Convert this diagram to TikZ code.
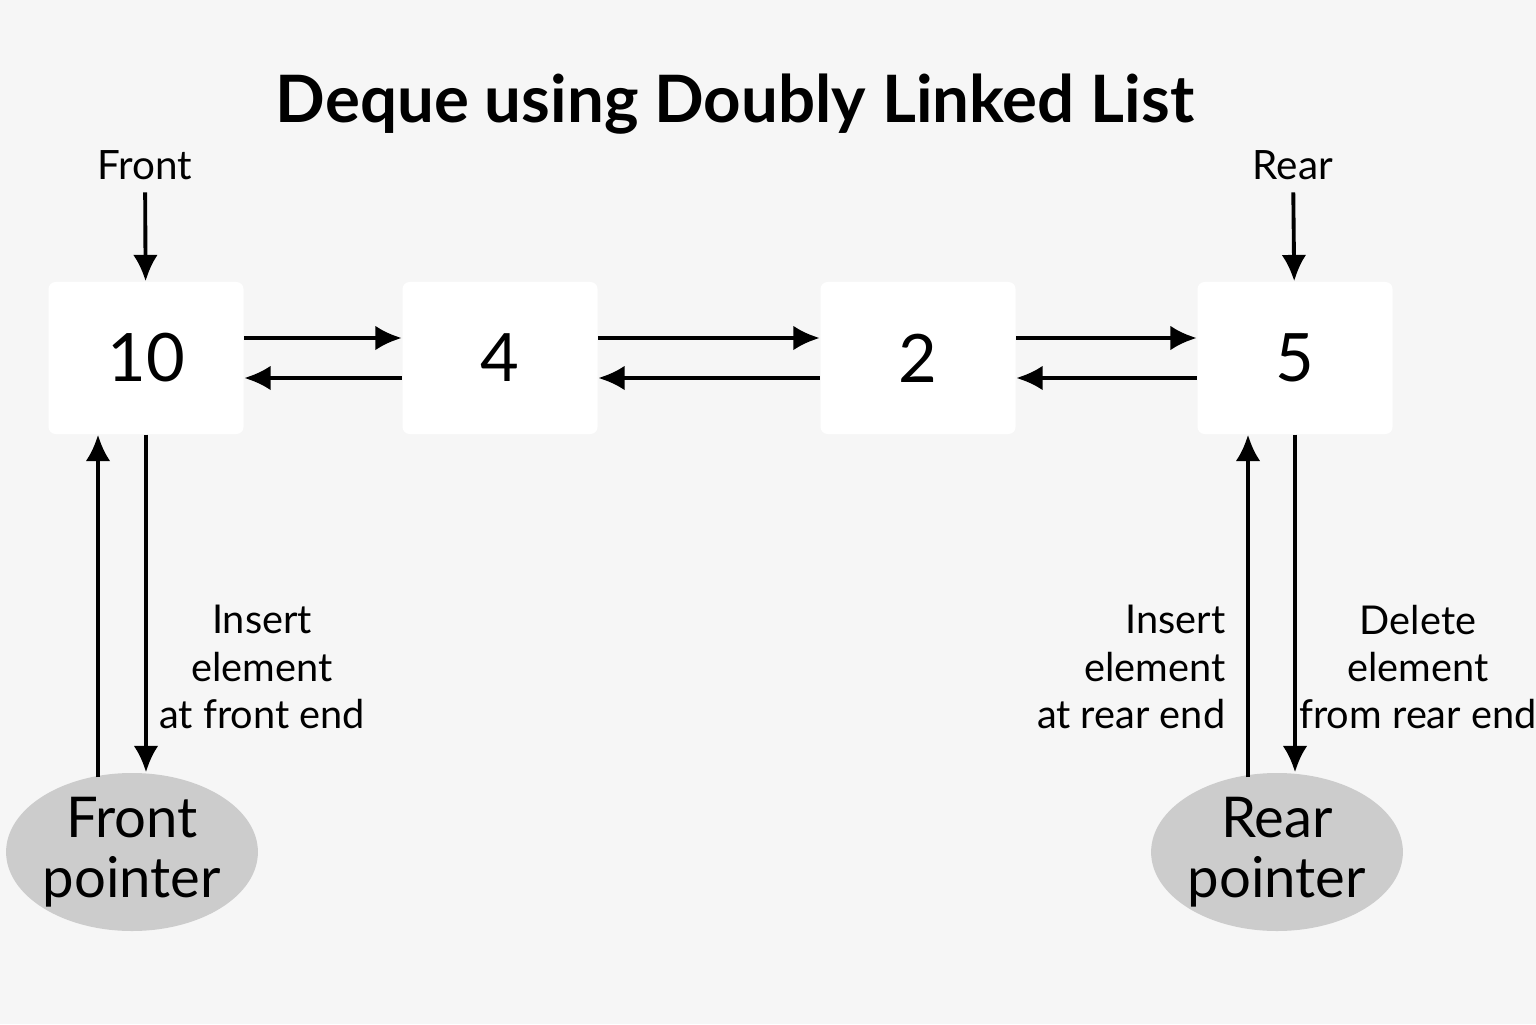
\documentclass[tikz,border=0pt]{standalone}
\usepackage{fontspec}
\setmainfont{Lato}
\usepackage{tikz}
\usetikzlibrary{arrows.meta}
\usetikzlibrary{calc}
\usetikzlibrary{positioning}
\usetikzlibrary{shapes.geometric}
\tikzset{>={Latex[length=7.5pt,width=7pt]}}
\tikzset{
  dq_node/.style = {fill=white, rounded corners=2pt, minimum width=1.95cm, minimum height=1.52cm, inner sep=0pt, font=\fontsize{19}{19}\selectfont},
  dq_ptr/.style = {ellipse, fill=gray!40, minimum width=2.45cm, minimum height=1.58cm, inner sep=0pt, align=center, font=\fontsize{16}{17}\selectfont},
  dq_end/.style = {inner sep=0pt, font=\fontsize{11.5}{13}\selectfont},
  dq_op/.style = {inner sep=0pt, font=\fontsize{11.3}{13.4}\selectfont},
  dq_link/.style = {->, line width=1.1pt},
  dq_title/.style = {inner sep=0pt, font=\fontsize{18.6}{20}\selectfont\bfseries}
}
\begin{document}
\begin{tikzpicture}
\useasboundingbox (0,0) rectangle (15.36,10.24);
\fill[gray!7] (0,0) rectangle (15.36,10.24);

\node [dq_title] (title) at (7.35,9.20) {Deque using Doubly Linked List};

\node [dq_node] (n10) at (1.46,6.66) {10};
\node [dq_node] (n4) at (5.00,6.66) {4};
\node [dq_node] (n2) at (9.18,6.66) {2};
\node [dq_node] (n5) at (12.95,6.66) {5};

\node [dq_end] (front) at (1.45,8.59) {Front};
\node [dq_end] (rear) at (12.93,8.59) {Rear};

\node [dq_ptr] (fptr) at (1.32,1.72) {Front\\pointer};
\node [dq_ptr] (rptr) at (12.77,1.72) {Rear\\pointer};

\foreach \a/\b in {n10/n4, n4/n2, n2/n5}{
  \draw [dq_link] ([yshift=2mm]\a.east) -- ([yshift=2mm]\b.west);
  \draw [dq_link] ([yshift=-2mm]\b.west) -- ([yshift=-2mm]\a.east);
}

\draw [dq_link, shorten <=1.2mm] (front) -- (n10);
\draw [dq_link, shorten <=1.2mm] (rear) -- (n5);

\coordinate (fin) at ([xshift=-4.8mm]n10.south);
\coordinate (rin) at ([xshift=-4.7mm]n5.south);
\draw [dq_link] ([yshift=-0.5mm]fin |- fptr.north) -- (fin);
\draw [dq_link] (n10.south) -- (n10.south |- fptr.north);
\draw [dq_link] ([yshift=-0.5mm]rin |- rptr.north) -- (rin);
\draw [dq_link] (n5.south) -- (n5.south |- rptr.north);

\node [dq_op, align=center] (fins) at (2.62,3.57) {Insert\\element\\at front end};
\node [dq_op, align=right, anchor=east] (rins) at (12.26,3.57) {Insert\\element\\at rear end};
\node [dq_op, align=center] (rdel) at (14.18,3.57) {Delete\\element\\from rear end};
\end{tikzpicture}
\end{document}
